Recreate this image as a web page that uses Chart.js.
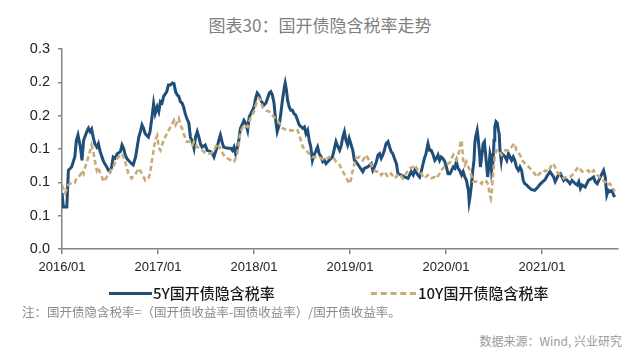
<!DOCTYPE html>
<html>
<head>
    <meta charset="utf-8">
    <title>国开债隐含税率走势</title>
    <script src="https://cdn.jsdelivr.net/npm/chart.js"></script>
    <style>
        body { margin: 0; background: #fff; width: 640px; height: 359px; overflow: hidden; position: relative; font-family: "Noto Sans CJK SC", sans-serif; }
        #wrap { position: absolute; left: 0; top: 0; width: 640px; height: 290px; }
        .txt { position: absolute; white-space: nowrap; line-height: 1; }
        #title { left: 0; width: 640px; top: 16px; text-align: center; font-size: 17px; color: #7f7f7f; }
        .leg-line { position: absolute; height: 0; }
        .leg-text { font-size: 15px; color: #1a1a1a; top: 285px; font-weight: 500; }
        #note { left: 22px; top: 306px; font-size: 12.5px; color: #8a8a8a; }
        #src { right: 18px; top: 335px; font-size: 12px; color: #9a9a9a; }
    </style>
</head>
<body>
    <div id="title" class="txt">图表30：国开债隐含税率走势</div>
    <div id="wrap"><canvas id="chart" width="640" height="290"></canvas></div>

    <div class="leg-line" style="left:109px; top:292px; width:43px; border-top:3px solid #1f4e79;"></div>
    <div class="txt leg-text" style="left:153px;">5Y国开债隐含税率</div>
    <div class="leg-line" style="left:371px; top:292px; width:45px; border-top:3px dashed #c9ab7a;"></div>
    <div class="txt leg-text" style="left:418px;">10Y国开债隐含税率</div>

    <div id="note" class="txt">注：国开债隐含税率=（国开债收益率-国债收益率）/国开债收益率。</div>
    <div id="src" class="txt">数据来源：Wind, 兴业研究</div>

    <script>
        // x = 2016/01 起的月数, y = 隐含税率
        const xLabels = ['2016/01', '2017/01', '2018/01', '2019/01', '2020/01', '2021/01'];
        const yLabels = ['0.0', '0.1', '0.1', '0.1', '0.2', '0.2', '0.3'];

        const month5Y = [0, 0.17, 0.6, 0.8, 1.2, 1.6, 1.8, 2.0, 2.3, 2.5, 2.7, 3.1, 3.3, 3.5, 3.7, 3.9, 4.1, 4.35, 4.55, 4.77,
            5.0, 5.2, 5.6, 5.8, 6.0, 6.2, 6.4, 6.65, 6.9, 7.3, 7.5, 7.7, 7.9, 8.1, 8.3, 8.7, 8.9, 9.2, 9.4, 9.6,
            9.8, 10.0, 10.2, 10.4, 10.8, 11.0, 11.25, 11.45, 11.65, 11.9, 12.1, 12.3, 12.5, 12.7, 13.1, 13.3, 13.55, 13.8, 14.0, 14.2,
            14.4, 14.6, 14.8, 15.0, 15.2, 15.4, 15.6, 15.85, 16.05, 16.3, 16.5, 16.7, 16.9, 17.1, 17.3, 17.5, 17.9, 18.15, 18.6, 18.8,
            19.0, 19.2, 19.4, 19.6, 19.8, 20.0, 20.2, 20.7, 21.1, 21.3, 21.5, 21.7, 21.9, 22.1, 22.3, 22.5, 22.75, 22.95, 23.2, 23.4,
            23.6, 23.8, 24.0, 24.2, 24.4, 24.6, 24.85, 25.05, 25.25, 25.5, 25.7, 25.9, 26.1, 26.3, 26.5, 26.7, 26.9, 27.15, 27.35, 27.55,
            27.8, 27.9, 28.05, 28.2, 28.4, 28.6, 28.8, 29.0, 29.2, 29.45, 29.65, 30.1, 30.3, 30.5, 30.7, 30.9, 31.1, 31.3, 31.5, 31.7,
            31.95, 32.15, 32.4, 32.6, 32.8, 33.0, 33.4, 33.8, 34.0, 34.25, 34.5, 34.7, 34.9, 35.1, 35.3, 35.5, 35.7, 35.9, 36.1, 36.35,
            36.55, 36.75, 37.2, 37.6, 37.8, 38.2, 38.65, 38.85, 39.05, 39.3, 39.5, 39.7, 39.9, 40.1, 40.3, 40.5, 40.75, 40.95, 41.15, 41.35,
            41.55, 41.8, 42.0, 42.4, 42.8, 43.25, 43.45, 43.65, 43.9, 44.1, 44.5, 44.7, 44.9, 45.1, 45.3, 45.5, 45.75, 45.95, 46.15, 46.4,
            46.6, 46.8, 47.0, 47.2, 47.4, 47.65, 47.85, 48.05, 48.25, 48.5, 48.7, 48.9, 49.1, 49.3, 49.5, 49.7, 49.95, 50.15, 50.35, 50.55,
            50.8, 50.9, 51.0, 51.2, 51.3, 51.5, 51.6, 51.7, 51.9, 52.0, 52.2, 52.3, 52.45, 52.65, 52.8, 52.9, 53.1, 53.2, 53.4, 53.5,
            53.6, 53.7, 53.9, 54.0, 54.1, 54.25, 54.4, 54.55, 54.65, 54.75, 54.9, 55.0, 55.2, 55.4, 55.6, 55.8, 56.0, 56.2, 56.4, 56.6,
            56.8, 57.05, 57.25, 57.45, 57.65, 57.85, 58.1, 58.3, 58.5, 58.7, 59.1, 59.35, 59.75, 60.0, 60.4, 60.6, 61.0, 61.45, 61.65, 62.05,
            62.3, 62.7, 62.9, 63.3, 63.5, 63.75, 64.15, 64.4, 64.6, 64.8, 65.0, 65.4, 65.8, 66.25, 66.45, 66.65, 66.9, 67.1, 67.5, 67.7,
            67.9, 68.1, 68.3, 68.5, 68.75, 68.95, 69.1];
        const rate5Y = [0.084, 0.063, 0.063, 0.118, 0.123, 0.138, 0.163, 0.171, 0.153, 0.133, 0.163, 0.176, 0.181, 0.176, 0.180, 0.168, 0.158, 0.153, 0.158, 0.146,
            0.138, 0.131, 0.123, 0.118, 0.116, 0.123, 0.138, 0.136, 0.143, 0.146, 0.156, 0.151, 0.141, 0.136, 0.133, 0.128, 0.126, 0.138, 0.153, 0.168,
            0.176, 0.186, 0.181, 0.173, 0.168, 0.176, 0.198, 0.218, 0.203, 0.213, 0.206, 0.221, 0.219, 0.229, 0.236, 0.246, 0.246, 0.249, 0.248, 0.236,
            0.231, 0.229, 0.221, 0.219, 0.213, 0.203, 0.196, 0.189, 0.168, 0.161, 0.151, 0.168, 0.176, 0.168, 0.158, 0.153, 0.156, 0.148, 0.146, 0.143,
            0.138, 0.146, 0.153, 0.163, 0.171, 0.161, 0.153, 0.151, 0.151, 0.148, 0.153, 0.143, 0.151, 0.163, 0.181, 0.186, 0.193, 0.189, 0.178, 0.198,
            0.203, 0.208, 0.213, 0.226, 0.234, 0.231, 0.223, 0.219, 0.216, 0.219, 0.226, 0.234, 0.236, 0.231, 0.219, 0.194, 0.176, 0.186, 0.203, 0.223,
            0.243, 0.249, 0.239, 0.223, 0.213, 0.208, 0.208, 0.203, 0.201, 0.193, 0.186, 0.181, 0.183, 0.173, 0.178, 0.163, 0.153, 0.133, 0.141, 0.146,
            0.153, 0.143, 0.138, 0.131, 0.133, 0.128, 0.133, 0.138, 0.148, 0.161, 0.153, 0.148, 0.155, 0.168, 0.176, 0.163, 0.156, 0.166, 0.158, 0.148,
            0.133, 0.131, 0.123, 0.116, 0.121, 0.123, 0.128, 0.118, 0.123, 0.131, 0.141, 0.143, 0.136, 0.141, 0.148, 0.158, 0.161, 0.153, 0.146, 0.143,
            0.136, 0.128, 0.113, 0.111, 0.108, 0.106, 0.111, 0.116, 0.111, 0.118, 0.111, 0.108, 0.116, 0.126, 0.136, 0.143, 0.158, 0.148, 0.148, 0.141,
            0.133, 0.136, 0.141, 0.133, 0.138, 0.135, 0.131, 0.123, 0.113, 0.113, 0.118, 0.123, 0.121, 0.131, 0.121, 0.118, 0.111, 0.116, 0.108, 0.103,
            0.088, 0.071, 0.078, 0.098, 0.113, 0.133, 0.158, 0.168, 0.178, 0.168, 0.143, 0.123, 0.138, 0.158, 0.161, 0.148, 0.123, 0.108, 0.128, 0.143,
            0.138, 0.118, 0.133, 0.163, 0.183, 0.191, 0.189, 0.178, 0.173, 0.148, 0.133, 0.143, 0.141, 0.138, 0.133, 0.143, 0.138, 0.133, 0.138, 0.133,
            0.123, 0.118, 0.123, 0.118, 0.103, 0.098, 0.096, 0.093, 0.091, 0.089, 0.088, 0.091, 0.097, 0.100, 0.104, 0.109, 0.116, 0.108, 0.101, 0.111,
            0.113, 0.103, 0.106, 0.101, 0.098, 0.103, 0.098, 0.096, 0.101, 0.091, 0.096, 0.093, 0.103, 0.106, 0.108, 0.101, 0.098, 0.103, 0.113, 0.118,
            0.108, 0.081, 0.088, 0.086, 0.088, 0.081, 0.078];

        const month10Y = [0, 0.4, 0.8, 1.2, 1.6, 1.8, 2.3, 2.5, 2.7, 2.9, 3.3, 3.7, 3.9, 4.1, 4.35, 4.55, 4.77, 5.0, 5.2, 5.6,
            6.0, 6.4, 6.9, 7.3, 7.5, 7.9, 8.3, 8.7, 9.2, 9.6, 10.0, 10.4, 10.8, 11.0, 11.25, 11.45, 11.65, 11.9, 12.1, 12.3,
            12.5, 12.7, 13.1, 13.55, 14.0, 14.2, 14.4, 14.6, 14.8, 15.0, 15.2, 15.6, 16.05, 16.3, 16.5, 16.9, 17.3, 17.7, 18.15, 18.6,
            19.0, 19.4, 19.8, 20.2, 20.7, 21.1, 21.5, 21.7, 21.9, 22.1, 22.3, 22.75, 23.2, 23.6, 24.0, 24.2, 24.4, 24.6, 24.85, 25.05,
            25.5, 25.9, 26.1, 26.5, 26.9, 27.35, 27.55, 28.2, 28.8, 29.2, 29.45, 29.65, 29.85, 30.1, 30.5, 30.9, 31.3, 31.7, 32.15, 32.8,
            33.4, 34.0, 34.25, 34.7, 35.1, 35.5, 35.9, 36.1, 36.35, 36.55, 36.75, 37.2, 37.6, 38.0, 38.4, 38.65, 39.05, 39.3, 39.7, 39.9,
            40.3, 40.75, 41.15, 41.55, 42.2, 42.6, 43.0, 43.25, 43.45, 43.9, 44.1, 44.5, 44.9, 45.3, 45.75, 46.15, 46.6, 46.8, 47.2, 47.4,
            47.85, 48.25, 48.5, 48.7, 48.9, 49.1, 49.3, 49.5, 49.7, 49.8, 49.95, 50.05, 50.15, 50.35, 50.55, 50.8, 51.0, 51.2, 51.4, 51.8,
            52.2, 52.45, 52.65, 53.1, 53.3, 53.4, 53.6, 53.7, 53.8, 53.9, 54.0, 54.1, 54.25, 54.55, 54.95, 55.4, 55.8, 56.2, 56.4, 56.6,
            56.8, 57.25, 57.65, 58.1, 58.5, 58.9, 59.35, 59.75, 60.0, 60.4, 60.8, 61.2, 61.45, 61.85, 62.3, 62.7, 63.1, 63.5, 63.95, 64.4,
            64.6, 65.0, 65.4, 65.8, 66.0, 66.45, 66.9, 67.3, 67.5, 67.9, 68.1, 68.5, 68.75, 69.1];
        const rate10Y = [0.096, 0.084, 0.096, 0.099, 0.099, 0.106, 0.111, 0.118, 0.113, 0.123, 0.138, 0.156, 0.148, 0.133, 0.118, 0.123, 0.113, 0.108, 0.101, 0.108,
            0.116, 0.123, 0.136, 0.141, 0.143, 0.131, 0.113, 0.106, 0.113, 0.121, 0.113, 0.103, 0.106, 0.113, 0.133, 0.148, 0.163, 0.170, 0.152, 0.148,
            0.156, 0.163, 0.173, 0.183, 0.193, 0.186, 0.191, 0.196, 0.186, 0.181, 0.173, 0.161, 0.161, 0.156, 0.161, 0.153, 0.151, 0.146, 0.143, 0.143,
            0.148, 0.158, 0.151, 0.141, 0.136, 0.133, 0.131, 0.136, 0.141, 0.158, 0.176, 0.186, 0.183, 0.198, 0.206, 0.215, 0.221, 0.226, 0.223, 0.213,
            0.208, 0.206, 0.203, 0.198, 0.193, 0.186, 0.181, 0.178, 0.178, 0.176, 0.178, 0.171, 0.163, 0.153, 0.148, 0.143, 0.138, 0.138, 0.138, 0.133,
            0.138, 0.136, 0.131, 0.126, 0.116, 0.108, 0.098, 0.103, 0.118, 0.128, 0.136, 0.138, 0.133, 0.141, 0.133, 0.126, 0.118, 0.116, 0.116, 0.111,
            0.116, 0.108, 0.113, 0.106, 0.113, 0.106, 0.113, 0.118, 0.121, 0.123, 0.126, 0.118, 0.113, 0.106, 0.111, 0.106, 0.108, 0.106, 0.113, 0.118,
            0.124, 0.128, 0.130, 0.136, 0.141, 0.136, 0.133, 0.141, 0.148, 0.161, 0.163, 0.148, 0.133, 0.126, 0.131, 0.123, 0.118, 0.108, 0.101, 0.101,
            0.101, 0.098, 0.103, 0.101, 0.096, 0.086, 0.076, 0.083, 0.098, 0.113, 0.128, 0.138, 0.148, 0.148, 0.141, 0.148, 0.148, 0.153, 0.156, 0.158,
            0.148, 0.141, 0.131, 0.126, 0.121, 0.116, 0.108, 0.114, 0.113, 0.118, 0.116, 0.126, 0.128, 0.116, 0.111, 0.106, 0.108, 0.108, 0.113, 0.121,
            0.123, 0.116, 0.116, 0.118, 0.113, 0.118, 0.111, 0.106, 0.103, 0.101, 0.096, 0.098, 0.093, 0.086];

        const axisColor = '#858585';
        const xFont = { family: 'Liberation Sans', size: 13 };
        const yFont = { family: 'Liberation Sans', size: 14.5 };

        const ctx = document.getElementById('chart').getContext('2d');

        new Chart(ctx, {
            type: 'line',
            data: {
                datasets: [
                    {
                        label: '5Y国开债隐含税率',
                        data: month5Y.map((m, i) => ({ x: m, y: rate5Y[i] })),
                        borderColor: '#1f4e79',
                        borderWidth: 3,
                        pointRadius: 0,
                        tension: 0,
                        order: 1,
                    },
                    {
                        label: '10Y国开债隐含税率',
                        data: month10Y.map((m, i) => ({ x: m, y: rate10Y[i] })),
                        borderColor: '#c9ab7a',
                        borderWidth: 2.6,
                        borderDash: [5, 3],
                        pointRadius: 0,
                        tension: 0,
                        order: 0,
                    },
                ],
            },
            options: {
                responsive: false,
                animation: false,
                devicePixelRatio: 1,
                layout: { padding: { top: 49, right: 22, left: 0, bottom: 0 } },
                plugins: {
                    legend: { display: false },
                    tooltip: { enabled: false },
                },
                scales: {
                    x: {
                        type: 'linear',
                        min: 0,
                        max: 69.5,
                        afterFit: (s) => { s.height = 41; },
                        border: { color: axisColor, width: 1.5 },
                        grid: { drawOnChartArea: false, color: axisColor, tickLength: 5, lineWidth: 1.5 },
                        ticks: {
                            stepSize: 12,
                            includeBounds: false,
                            autoSkip: false,
                            maxRotation: 0,
                            padding: 6,
                            color: '#222',
                            font: xFont,
                            callback: (v) => xLabels[Math.round(v / 12)],
                        },
                    },
                    y: {
                        min: 0,
                        max: 0.3,
                        afterFit: (s) => { s.width = 62; },
                        border: { color: axisColor, width: 1.5 },
                        grid: { drawOnChartArea: false, color: axisColor, tickLength: 4, lineWidth: 1.5 },
                        ticks: {
                            stepSize: 0.05,
                            padding: 8,
                            color: '#222',
                            font: yFont,
                            callback: (v) => yLabels[Math.round(v / 0.05)],
                        },
                    },
                },
            },
        });
    </script>
</body>
</html>
